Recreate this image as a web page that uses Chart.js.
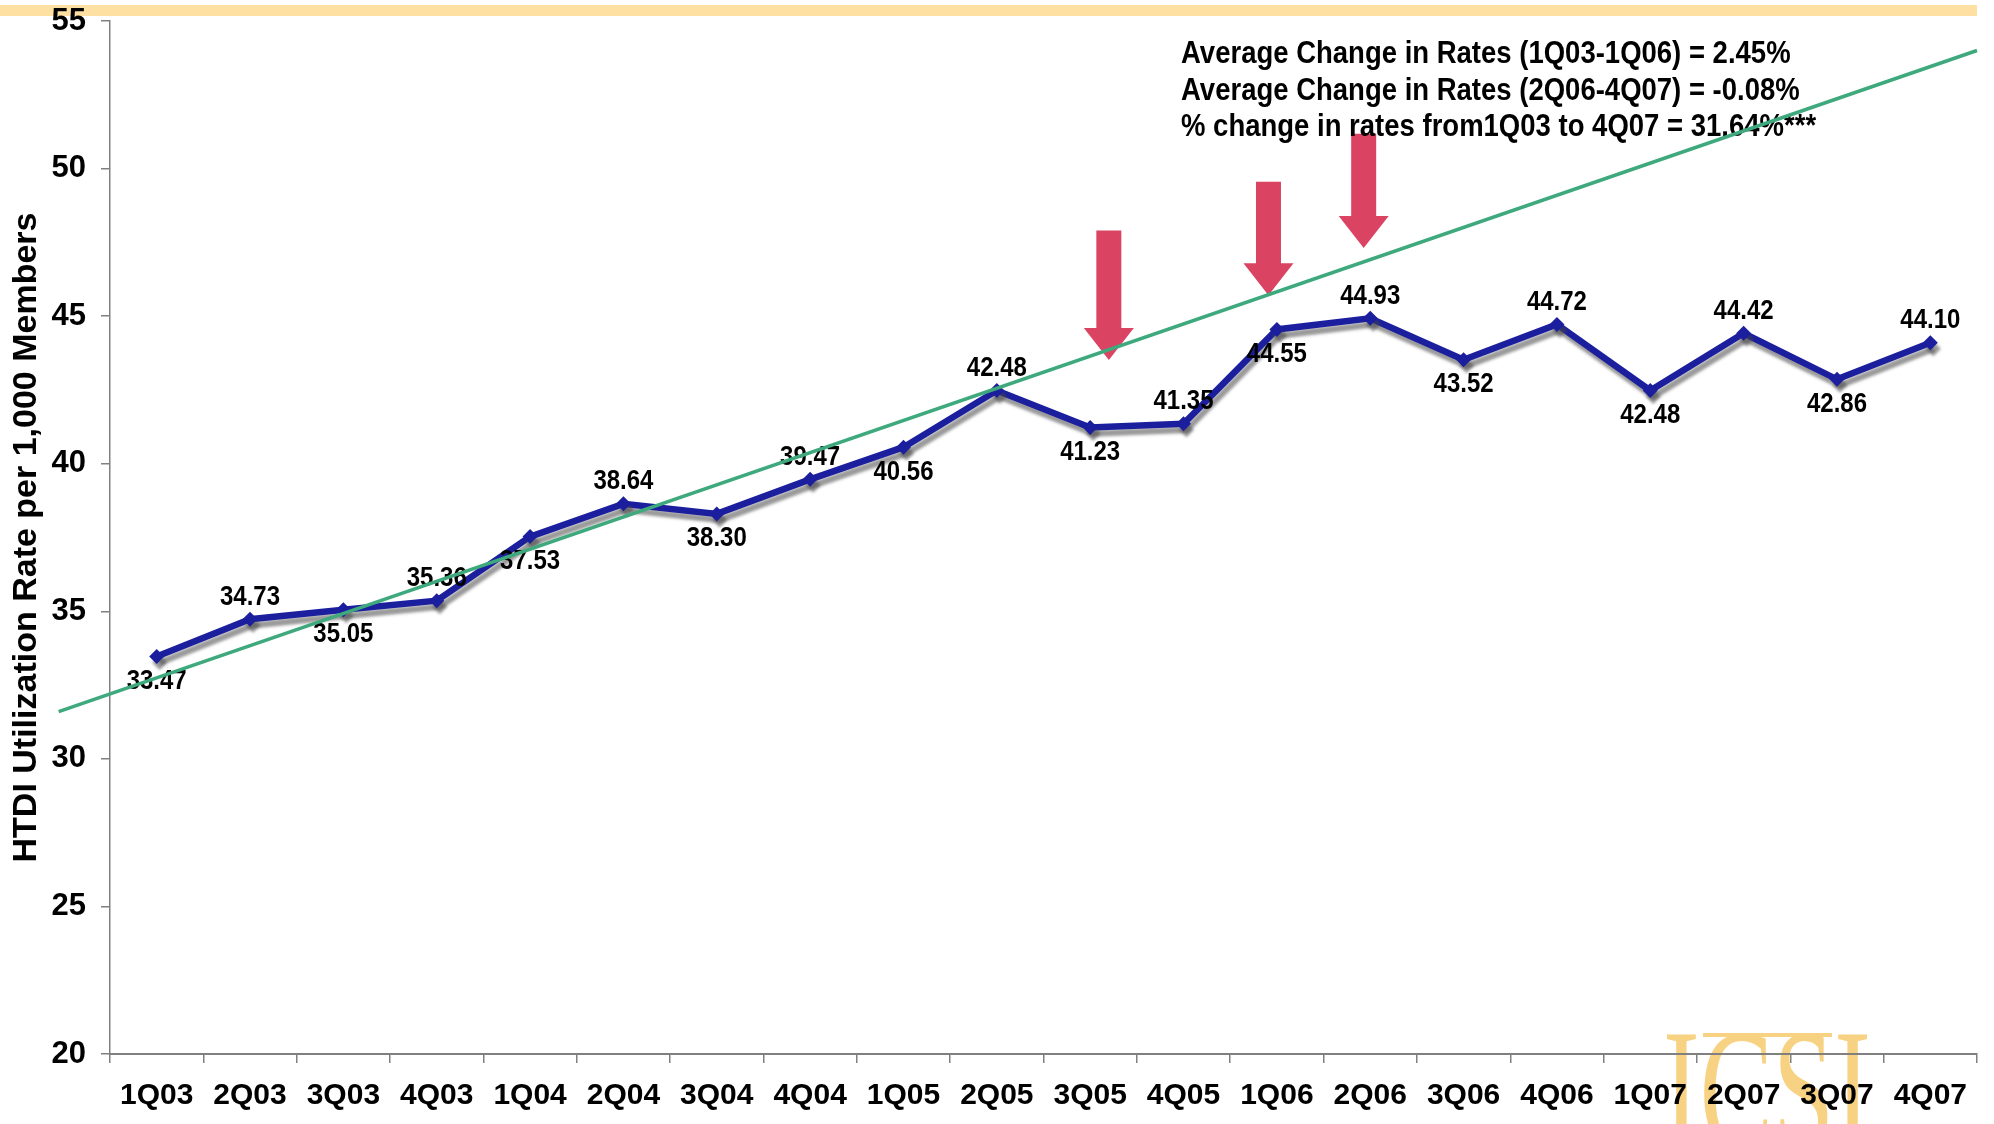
<!DOCTYPE html>
<html>
<head>
<meta charset="utf-8">
<title>HTDI Utilization Rate</title>
<script src="https://cdn.jsdelivr.net/npm/chart.js@4.4.1/dist/chart.umd.min.js"></script>
<style>
  body { margin: 0; background: #fff; }
  canvas { display: block; }
</style>
</head>
<body>
<canvas id="myChart" width="1994" height="1124"></canvas>
<script>
// Quarters along the x-axis
var quarters = ["1Q03", "2Q03", "3Q03", "4Q03", "1Q04", "2Q04", "3Q04", "4Q04", "1Q05", "2Q05",
                "3Q05", "4Q05", "1Q06", "2Q06", "3Q06", "4Q06", "1Q07", "2Q07", "3Q07", "4Q07"];
// HTDI utilization rate per 1,000 members
var rates = [33.47, 34.73, 35.05, 35.36, 37.53, 38.64, 38.30, 39.47, 40.56, 42.48,
             41.23, 41.35, 44.55, 44.93, 43.52, 44.72, 42.48, 44.42, 42.86, 44.10];
// which side of the point each value label sits on
var labelSide = ["below", "above", "below", "above", "below", "above", "below", "above", "below", "above",
                 "below", "above", "below", "above", "below", "above", "below", "above", "below", "above"];
// y-axis ticks
var yTicks = [20, 25, 30, 35, 40, 45, 50, 55];
// trend line ends (category index, rate)
var trendIndex = [-1.05, 19.5];
var trendRate = [31.6, 54.0];
// red arrows (category index, rate at top of shaft, rate at tip)
var arrowIndex = [10.2, 11.91, 12.93];
var arrowTop = [47.9, 49.55, 51.18];
var arrowTip = [43.51, 45.71, 47.31];
// notes in the top right
var notes = [
  "Average Change in Rates (1Q03-1Q06) = 2.45%",
  "Average Change in Rates (2Q06-4Q07) = -0.08%",
  "% change in rates from1Q03 to 4Q07 = 31.64%***"
];

var FONT = '"Liberation Sans", Arial, sans-serif';

var backdrop = {
  id: 'backdrop',
  beforeDraw: function(chart) {
    var ctx = chart.ctx;
    ctx.save();
    ctx.fillStyle = '#fff';
    ctx.fillRect(0, 0, chart.width, chart.height);
    // orange band at the top
    ctx.fillStyle = '#FFE0A3';
    ctx.fillRect(0, 5, chart.chartArea.right, 11);
    // ICSI logo
    ctx.fillStyle = '#F8D283';
    ctx.fillRect(1703, 1033, 129, 4);
    ctx.translate(1663, 1150);
    ctx.scale(1, 1.6);
    ctx.font = '110px "Liberation Serif", "DejaVu Serif", serif';
    ctx.textBaseline = 'alphabetic';
    ctx.fillText('ICSI', 0, 0);
    ctx.restore();
  }
};

var lineShadow = {
  id: 'lineShadow',
  beforeDatasetDraw: function(chart, args) {
    var ctx = chart.ctx;
    ctx.save();
    ctx.shadowColor = 'rgba(70,70,70,0.55)';
    ctx.shadowOffsetX = 3;
    ctx.shadowOffsetY = 6;
    ctx.shadowBlur = 3;
  },
  afterDatasetDraw: function(chart, args) {
    chart.ctx.restore();
  }
};

// text a little taller than wide, as in the original slide
function tallText(ctx, text, x, y) {
  ctx.save();
  ctx.translate(x, y);
  ctx.scale(1, 1.12);
  ctx.fillText(text, 0, 0);
  ctx.restore();
}

var extras = {
  id: 'extras',
  afterDatasetsDraw: function(chart) {
    var ctx = chart.ctx;
    var xs = chart.scales.x, ys = chart.scales.y;
    var meta = chart.getDatasetMeta(0);
    ctx.save();

    // value labels
    ctx.font = 'bold 24px ' + FONT;
    ctx.fillStyle = '#000';
    ctx.textAlign = 'center';
    ctx.textBaseline = 'middle';
    meta.data.forEach(function(pt, i) {
      var dy = labelSide[i] === 'above' ? -22 : 25;
      tallText(ctx, rates[i].toFixed(2), pt.x, pt.y + dy);
    });

    // red arrows
    ctx.fillStyle = '#DA4462';
    for (var i = 0; i < arrowIndex.length; i++) {
      var x = xs.getPixelForValue(arrowIndex[i]);
      var top = ys.getPixelForValue(arrowTop[i]);
      var tip = ys.getPixelForValue(arrowTip[i]);
      var head = tip - 32;
      ctx.beginPath();
      ctx.moveTo(x - 12.5, top);
      ctx.lineTo(x + 12.5, top);
      ctx.lineTo(x + 12.5, head);
      ctx.lineTo(x + 25, head);
      ctx.lineTo(x, tip);
      ctx.lineTo(x - 25, head);
      ctx.lineTo(x - 12.5, head);
      ctx.closePath();
      ctx.fill();
    }

    // notes
    ctx.font = 'bold 27.5px ' + FONT;
    ctx.fillStyle = '#000';
    ctx.textAlign = 'left';
    ctx.textBaseline = 'alphabetic';
    notes.forEach(function(t, k) {
      tallText(ctx, t, 1181, 63 + k * 36.5);
    });

    // trend line
    ctx.strokeStyle = '#3DA97C';
    ctx.lineWidth = 3.5;
    ctx.beginPath();
    ctx.moveTo(xs.getPixelForValue(trendIndex[0]), ys.getPixelForValue(trendRate[0]));
    ctx.lineTo(xs.getPixelForValue(trendIndex[1]), ys.getPixelForValue(trendRate[1]));
    ctx.stroke();
    ctx.restore();
  }
};

var myChart = new Chart("myChart", {
  type: 'line',
  data: {
    labels: quarters,
    datasets: [{
      data: rates,
      borderColor: '#1B1F9E',
      backgroundColor: '#1B1F9E',
      borderWidth: 6.5,
      pointStyle: 'rectRot',
      pointRadius: 7.5,
      pointBorderWidth: 0,
      pointBackgroundColor: '#1B1F9E',
      tension: 0,
      fill: false,
      clip: false
    }]
  },
  options: {
    responsive: false,
    animation: false,
    layout: { padding: { left: 0, right: 17, top: 21, bottom: 0 } },
    plugins: {
      legend: { display: false },
      tooltip: { enabled: false }
    },
    scales: {
      x: {
        offset: true,
        grid: { offset: true, drawOnChartArea: false, drawTicks: true, tickLength: 9, color: '#808080', lineWidth: 1.5 },
        border: { display: true, color: '#808080', width: 2 },
        ticks: { color: '#000', padding: 15, maxRotation: 0, autoSkip: false, font: { family: FONT, size: 30, weight: 'bold' } },
        afterFit: function(scale) { scale.height = 70; }
      },
      y: {
        min: 20,
        max: 55,
        afterBuildTicks: function(scale) {
          scale.ticks = yTicks.map(function(v) { return { value: v }; });
        },
        grid: { drawOnChartArea: false, drawTicks: true, tickLength: 9, color: '#808080', lineWidth: 1.5 },
        border: { display: true, color: '#808080', width: 1.5 },
        ticks: { color: '#000', padding: 15, font: { family: FONT, size: 31, weight: 'bold' } },
        title: {
          display: true,
          text: 'HTDI Utilization Rate per 1,000 Members',
          color: '#000',
          padding: { top: 6, bottom: 0 },
          font: { family: FONT, size: 34, weight: 'bold' }
        },
        afterFit: function(scale) {
          scale.width = 110;
          scale.paddingTop = 0;
          scale.paddingBottom = 0;
        }
      }
    }
  },
  plugins: [backdrop, lineShadow, extras]
});
</script>
</body>
</html>
